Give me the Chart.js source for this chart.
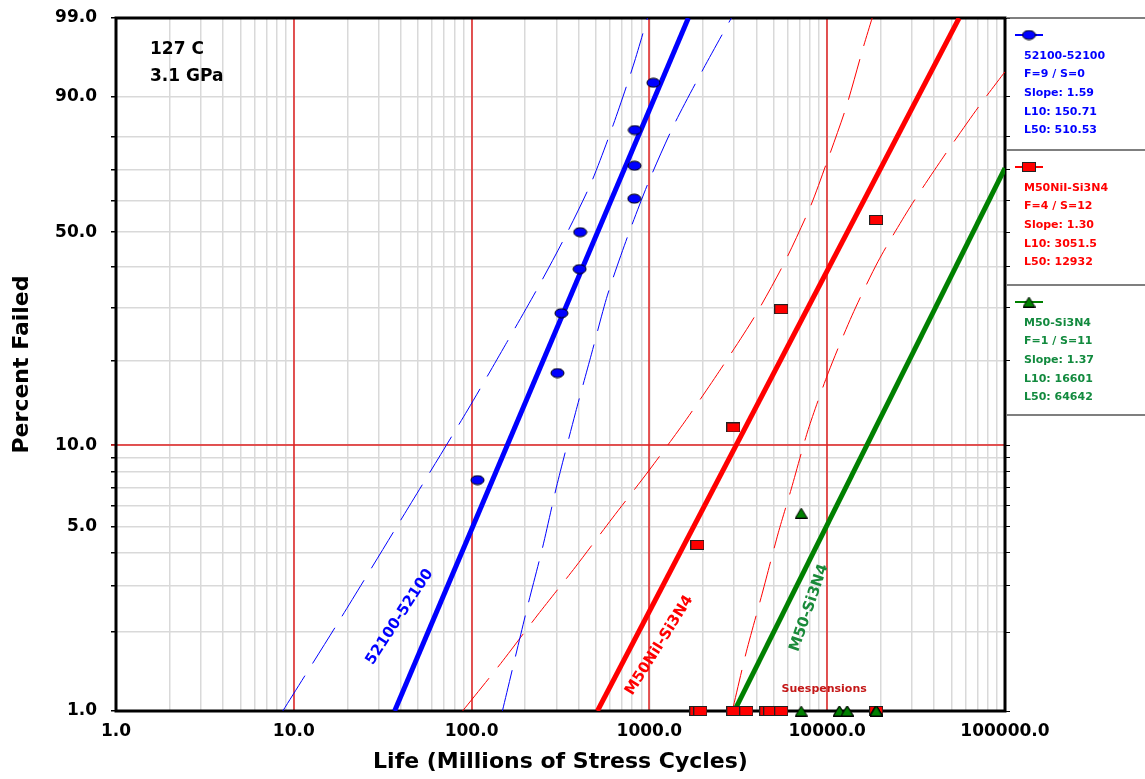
<!DOCTYPE html>
<html>
<head>
<meta charset="utf-8">
<script src="https://cdn.jsdelivr.net/npm/chart.js@4.4.1/dist/chart.umd.min.js"></script>
<style>
  html, body { margin: 0; padding: 0; background: #fff; }
  #wrap { width: 1145px; height: 779px; }
</style>
</head>
<body>
<div id="wrap"><canvas id="weibullChart" width="1145" height="779"></canvas></div>
<script>
// axis ticks (weibull paper)
const pctTicks = [1, 2, 3, 4, 5, 6, 7, 8, 9, 10, 20, 30, 40, 50, 60, 70, 80, 90, 99]
const pctLabels = [1, 5, 10, 50, 90, 99]
const lifeTicks = [1, 2, 3, 4, 5, 6, 7, 8, 9, 10, 20, 30, 40, 50, 60, 70, 80, 90,
  100, 200, 300, 400, 500, 600, 700, 800, 900, 1000, 2000, 3000, 4000, 5000, 6000, 7000, 8000, 9000,
  10000, 20000, 30000, 40000, 50000, 60000, 70000, 80000, 90000, 100000]
const lifeLabels = [1, 10, 100, 1000, 10000, 100000]
const redGridX = [10, 100, 1000, 10000]
const redGridY = [10]

// 52100-52100 failures
const blueX = [108, 304, 320, 405, 408, 822, 825, 828, 1053]
const bluePct = [7.45, 18.09, 28.72, 39.36, 50.0, 60.64, 71.28, 81.91, 92.55]
const blueFitX = [36.9, 1656]
const blueFitPct = [1, 99]
const blueLoX = [8.67, 18.1, 40.9, 95.0, 155, 232, 337, 472, 628, 813, 975]
const blueLoPct = [1.0, 2.22, 5.43, 13.4, 22.6, 34.0, 48.8, 66.0, 83.5, 95.2, 99.0]
const blueHiX = [149, 206, 251, 300, 384, 472, 581, 752, 1000, 1381, 2010, 2890]
const blueHiPct = [1.0, 2.49, 4.19, 7.02, 13.1, 21.0, 32.8, 48.5, 66.7, 83.5, 94.7, 99.0]

// M50NiI-Si3N4
const redX = [1862, 2965, 5516, 18850]
const redPct = [4.27, 11.6, 29.6, 53.8]
const redSuspX = [1836, 1935, 1935, 2965, 2965, 3508, 4542, 4786, 5516, 5516, 18850, 18850]
const redSuspPct = [1, 1, 1, 1, 1, 1, 1, 1, 1, 1, 1, 1]
const redFitX = [510, 55200]
const redFitPct = [1, 99]
const redLoX = [89.0, 146, 235, 384, 620, 1000, 1614, 2538, 3890, 5730, 8020, 9870, 12790, 15930, 17900]
const redLoPct = [1.0, 1.52, 2.32, 3.53, 5.39, 8.12, 12.4, 18.8, 27.9, 41.0, 57.9, 71.8, 87.7, 97.1, 99.0]
const redHiX = [2925, 3508, 4315, 5307, 6279, 7818, 10130, 13810, 19350, 29250, 45390, 71450, 100000]
const redHiPct = [1.0, 1.68, 2.81, 4.74, 6.91, 11.4, 18.1, 28.3, 41.5, 57.9, 74.3, 87.9, 94.3]

// M50-Si3N4
const greenX = [7145]
const greenPct = [5.62]
const greenSuspX = [7145, 11700, 11700, 12950, 12950, 18850, 18850, 18850, 18850, 18850, 18850]
const greenSuspPct = [1, 1, 1, 1, 1, 1, 1, 1, 1, 1, 1]
const greenFitX = [3003, 100000]
const greenFitPct = [1, 70.5]

const legendNames = ['52100-52100', 'M50NiI-Si3N4', 'M50-Si3N4']
const legendFS = ['F=9 / S=0', 'F=4 / S=12', 'F=1 / S=11']
const legendSlope = ['1.59', '1.30', '1.37']
const legendL10 = ['150.71', '3051.5', '16601']
const legendL50 = ['510.53', '12932', '64642']

const BLUE = '#0000ff'
const RED = '#ff0000'
const GREEN = '#008000'
const GRID = '#d9d9d9'
const FONT = "'DejaVu Sans', Verdana, sans-serif"
Chart.defaults.font.family = FONT

const pts = (xs, ys) => xs.map((x, i) => ({ x, y: ys[i] }))
const weib = p => Math.log(-Math.log(1 - p / 100))

class WeibullScale extends Chart.LinearScale {
  determineDataLimits() {
    this.min = this.options.min
    this.max = this.options.max
  }
  buildTicks() {
    return pctTicks.map(v => ({ value: v }))
  }
  configure() {
    super.configure()
    this._w0 = weib(this.min)
    this._w1 = weib(this.max)
  }
  getPixelForValue(v) {
    return this.getPixelForDecimal((weib(v) - this._w0) / (this._w1 - this._w0))
  }
  getValueForPixel(px) {
    const w = this._w0 + this.getDecimalForPixel(px) * (this._w1 - this._w0)
    return 100 * (1 - Math.exp(-Math.exp(w)))
  }
}
WeibullScale.id = 'weibull'
WeibullScale.defaults = {}
Chart.register(WeibullScale)

const markerCanvas = (w, h, draw) => {
  const c = document.createElement('canvas')
  c.width = w; c.height = h
  draw(c.getContext('2d'))
  return c
}
const ellipseMark = markerCanvas(15, 11, g => {
  g.beginPath(); g.ellipse(7.5, 5.5, 6.5, 4.5, 0, 0, 2 * Math.PI)
  g.fillStyle = BLUE; g.fill(); g.strokeStyle = '#000'; g.lineWidth = 1; g.stroke()
})
const squareMark = markerCanvas(14, 10, g => {
  g.fillStyle = RED; g.fillRect(0.5, 0.5, 13, 9)
  g.strokeStyle = '#222'; g.lineWidth = 1; g.strokeRect(0.5, 0.5, 13, 9)
})
const triMark = markerCanvas(13, 11, g => {
  g.beginPath(); g.moveTo(6.5, 0.5); g.lineTo(12.5, 10.5); g.lineTo(0.5, 10.5); g.closePath()
  g.fillStyle = GREEN; g.fill(); g.strokeStyle = '#000'; g.lineWidth = 1; g.stroke()
})

const markerSet = (data, img) => ({ data, pointStyle: img, pointRadius: 7, showLine: false, clip: false })
const fitLine = (data, color) => ({ data, showLine: true, borderColor: color, borderWidth: 5, pointRadius: 0, tension: 0 })
const boundLine = (data, color) => ({ data, showLine: true, borderColor: color, borderWidth: 1, borderDash: [42, 14], pointRadius: 0, tension: 0.25 })

// red decade lines + black frame, drawn over the gray grid
const frame = {
  id: 'frame',
  beforeDatasetsDraw(chart) {
    const { ctx, chartArea: a, scales: { x, y } } = chart
    ctx.save()
    ctx.strokeStyle = '#e02020'
    ctx.lineWidth = 1.5
    redGridX.forEach(v => {
      const px = Math.round(x.getPixelForValue(v))
      ctx.beginPath(); ctx.moveTo(px, a.top); ctx.lineTo(px, a.bottom); ctx.stroke()
    })
    redGridY.forEach(v => {
      const py = Math.round(y.getPixelForValue(v))
      ctx.beginPath(); ctx.moveTo(a.left - 5, py); ctx.lineTo(a.right, py); ctx.stroke()
    })
    ctx.strokeStyle = '#000'
    ctx.lineWidth = 3
    ctx.strokeRect(a.left, a.top, a.right - a.left, a.bottom - a.top)
    ctx.restore()
  }
}

const notes = {
  id: 'notes',
  afterDatasetsDraw(chart) {
    const { ctx, scales: { x, y } } = chart
    ctx.save()
    ctx.textBaseline = 'middle'
    ctx.fillStyle = '#000'
    ctx.font = `bold 17px ${FONT}`
    ctx.fillText('127 C', 150, 50)
    ctx.fillText('3.1 GPa', 150, 77)

    const tag = (text, lx, ly, angle, color, size) => {
      ctx.save()
      ctx.translate(x.getPixelForValue(lx), y.getPixelForValue(ly))
      ctx.rotate(angle * Math.PI / 180)
      ctx.textAlign = 'center'
      ctx.fillStyle = color
      ctx.font = `bold ${size}px ${FONT}`
      ctx.fillText(text, 0, 0)
      ctx.restore()
    }
    tag('52100-52100', 39.4, 2.28, -57, BLUE, 15)
    tag('M50NiI-Si3N4', 1138, 1.78, -58, RED, 15)
    tag('M50-Si3N4', 7925, 2.47, -71, '#1a8a3a', 15)
    tag('Suespensions', 9620, 1.21, 0, '#c41818', 11)
    ctx.restore()
  }
}

const sidePanel = {
  id: 'sidePanel',
  afterDraw(chart) {
    const { ctx, chartArea: a } = chart
    const x0 = a.right + 2
    const tops = [18, 150, 285, 415]
    const colors = [BLUE, RED, GREEN]
    const textColors = [BLUE, RED, '#128a3e']
    const marks = [ellipseMark, squareMark, triMark]
    ctx.save()
    ctx.strokeStyle = '#555'
    ctx.lineWidth = 1.5
    tops.forEach(t => {
      ctx.beginPath(); ctx.moveTo(x0, t); ctx.lineTo(chart.width, t); ctx.stroke()
    })
    ctx.textBaseline = 'middle'
    ctx.font = `bold 11px ${FONT}`
    legendNames.forEach((name, i) => {
      const top = tops[i]
      const my = top + 17
      ctx.strokeStyle = colors[i]
      ctx.lineWidth = 2
      ctx.beginPath(); ctx.moveTo(x0 + 8, my); ctx.lineTo(x0 + 36, my); ctx.stroke()
      const m = marks[i]
      ctx.drawImage(m, x0 + 22 - m.width / 2, my - m.height / 2)
      ctx.fillStyle = textColors[i]
      const lines = [name, legendFS[i], 'Slope: ' + legendSlope[i], 'L10: ' + legendL10[i], 'L50: ' + legendL50[i]]
      lines.forEach((t, k) => ctx.fillText(t, x0 + 17, top + 38 + k * 18.6))
    })
    ctx.restore()
  }
}

new Chart(document.getElementById('weibullChart'), {
  type: 'scatter',
  data: {
    datasets: [
      markerSet(pts(greenSuspX, greenSuspPct), triMark),
      markerSet(pts(greenX, greenPct), triMark),
      markerSet(pts(redSuspX, redSuspPct), squareMark),
      markerSet(pts(redX, redPct), squareMark),
      markerSet(pts(blueX, bluePct), ellipseMark),
      fitLine(pts(blueFitX, blueFitPct), BLUE),
      fitLine(pts(redFitX, redFitPct), RED),
      fitLine(pts(greenFitX, greenFitPct), GREEN),
      boundLine(pts(blueLoX, blueLoPct), BLUE),
      boundLine(pts(blueHiX, blueHiPct), BLUE),
      boundLine(pts(redLoX, redLoPct), RED),
      boundLine(pts(redHiX, redHiPct), RED),
    ]
  },
  options: {
    responsive: false,
    animation: false,
    layout: { padding: { top: 18, right: 134, left: 0, bottom: 0 } },
    plugins: { legend: { display: false }, tooltip: { enabled: false } },
    scales: {
      x: {
        type: 'logarithmic',
        min: 1,
        max: 100000,
        afterBuildTicks: axis => { axis.ticks = lifeTicks.map(v => ({ value: v })) },
        afterFit: axis => { axis.height = 68; axis.paddingLeft = 0; axis.paddingRight = 0 },
        ticks: {
          autoSkip: false, maxRotation: 0, minRotation: 0, padding: 10, color: '#000',
          font: { size: 17, weight: 'bold' },
          callback: v => lifeLabels.includes(v) ? v.toFixed(1) : ''
        },
        grid: { drawTicks: false, color: GRID, lineWidth: 1.5 },
        border: { display: false },
        title: {
          display: true, text: 'Life (Millions of Stress Cycles)', color: '#000',
          font: { size: 22, weight: 'bold' }, padding: { top: 0, bottom: 4 }
        }
      },
      y: {
        type: 'weibull',
        position: 'left',
        min: 1,
        max: 99,
        afterFit: axis => { axis.width = 116; axis.paddingTop = 0; axis.paddingBottom = 0 },
        ticks: {
          autoSkip: false, padding: 14, color: '#000',
          font: { size: 17, weight: 'bold' },
          callback: v => pctLabels.includes(v) ? v.toFixed(1) : ''
        },
        grid: { tickLength: 5, tickColor: '#000', color: GRID, lineWidth: 1.5 },
        border: { display: false },
        title: {
          display: true, text: 'Percent Failed', color: '#000',
          font: { size: 22, weight: 'bold' }, padding: { top: 9, bottom: 0 }
        }
      },
      y2: {
        type: 'weibull',
        position: 'right',
        min: 1,
        max: 99,
        afterFit: axis => { axis.width = 6; axis.paddingTop = 0; axis.paddingBottom = 0 },
        ticks: { display: false },
        grid: { drawOnChartArea: false, drawTicks: true, tickLength: 5, tickColor: '#000' },
        border: { display: false }
      }
    }
  },
  plugins: [frame, notes, sidePanel]
})
</script>
</body>
</html>
